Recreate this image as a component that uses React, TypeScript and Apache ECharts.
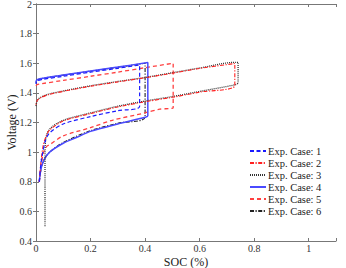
import React, { useEffect, useRef } from "react";
import * as echarts from "echarts";

const caseNames = ["Exp. Case: 1", "Exp. Case: 2", "Exp. Case: 3", "Exp. Case: 4", "Exp. Case: 5", "Exp. Case: 6"];

const case1Soc = [0.012, 0.018, 0.025, 0.035, 0.05, 0.1, 0.2, 0.3, 0.38, 0.38, 0.3, 0.2, 0.1, 0.02, 0.003, 0];
const case1Volt = [0.8, 0.92, 1.0, 1.08, 1.13, 1.19, 1.24, 1.28, 1.31, 1.588, 1.566, 1.54, 1.512, 1.49, 1.48, 1.46];

const case2Soc = [0.012, 0.018, 0.027, 0.04, 0.05, 0.1, 0.2, 0.3, 0.4, 0.5, 0.6, 0.729, 0.729, 0.6, 0.5, 0.4, 0.3, 0.2, 0.1, 0.05, 0.02, 0.005, 0];
const case2Volt = [0.8, 0.93, 1.05, 1.12, 1.15, 1.21, 1.26, 1.305, 1.34, 1.37, 1.405, 1.45, 1.598, 1.565, 1.533, 1.502, 1.474, 1.445, 1.41, 1.39, 1.37, 1.35, 1.32];

const case3Soc = [0.033, 0.033, 0.033, 0.035, 0.05, 0.1, 0.2, 0.3, 0.4, 0.5, 0.6, 0.73, 0.741, 0.741, 0.73, 0.6, 0.5, 0.4, 0.3, 0.2, 0.1, 0.05, 0.02, 0.005, 0];
const case3Volt = [0.5, 0.75, 0.95, 1.08, 1.155, 1.215, 1.265, 1.31, 1.345, 1.375, 1.41, 1.455, 1.47, 1.606, 1.606, 1.568, 1.536, 1.504, 1.477, 1.448, 1.413, 1.393, 1.373, 1.35, 1.31];

const case4Soc = [0.012, 0.015, 0.02, 0.03, 0.05, 0.1, 0.15, 0.2, 0.3, 0.4, 0.41, 0.41, 0.3, 0.2, 0.1, 0.02, 0.003, 0];
const case4Volt = [0.8, 0.85, 0.9, 0.95, 1.0, 1.06, 1.1, 1.14, 1.19, 1.235, 1.245, 1.605, 1.574, 1.547, 1.52, 1.497, 1.488, 1.47];

const case5Soc = [0.012, 0.02, 0.028, 0.04, 0.05, 0.1, 0.2, 0.28, 0.4, 0.454, 0.503, 0.503, 0.4, 0.3, 0.2, 0.1, 0.02, 0.003, 0];
const case5Volt = [0.8, 0.92, 1.0, 1.04, 1.05, 1.11, 1.165, 1.215, 1.265, 1.29, 1.3, 1.6, 1.57, 1.54, 1.512, 1.484, 1.462, 1.455, 1.44];

const case6Soc = [0.012, 0.02, 0.03, 0.05, 0.1, 0.2, 0.3, 0.4, 0.4, 0.3, 0.2, 0.1, 0.02, 0.003, 0];
const case6Volt = [0.8, 0.9, 0.95, 1.0, 1.065, 1.145, 1.195, 1.24, 1.6, 1.573, 1.547, 1.52, 1.497, 1.487, 1.47];

const xTicks = [0, 0.2, 0.4, 0.6, 0.8, 1];
const yTicks = [0.4, 0.6, 0.8, 1, 1.2, 1.4, 1.6, 1.8, 2];

const zip = (a: number[], b: number[]) => a.map((v, i) => [v, b[i]]);

const FONT = "Liberation Serif";

export default function App() {
  const ref = useRef<HTMLDivElement>(null);
  useEffect(() => {
    if (!ref.current) return;
    const chart = echarts.init(ref.current, null, { renderer: "svg" });
    const styles = [
      { color: "#1a1aff", type: [4, 2.5], width: 1.2 },
      { color: "#ff2020", type: [4, 1.5, 1.2, 1.5], width: 1.1 },
      { color: "#333333", type: [1, 1], width: 1.3 },
      { color: "#4a4aff", type: "solid", width: 1.5 },
      { color: "#ff4040", type: [4, 3], width: 1.3 },
      { color: "#222222", type: [4, 1.5, 1.2, 1.5], width: 1.1 },
    ];
    const datas = [
      zip(case1Soc, case1Volt),
      zip(case2Soc, case2Volt),
      zip(case3Soc, case3Volt),
      zip(case4Soc, case4Volt),
      zip(case5Soc, case5Volt),
      zip(case6Soc, case6Volt),
    ];
    const axisCommon = {
      axisLine: { show: true, lineStyle: { color: "#777", width: 1 } },
      axisTick: { show: true, inside: true, length: 3, lineStyle: { color: "#777" } },
      splitLine: { show: false },
    };
    const labelStyle = { fontFamily: FONT, fontSize: 10, color: "#333" };
    chart.setOption({
      animation: false,
      textStyle: { fontFamily: FONT },
      grid: { left: 36, right: 10, top: 4, bottom: 27, containLabel: false, outerBoundsMode: "none" },
      legend: {
        orient: "vertical",
        left: 244,
        top: 140,
        itemWidth: 16,
        itemHeight: 12,
        itemGap: 0,
        itemStyle: { opacity: 0 },
        data: caseNames,
        textStyle: { fontFamily: FONT, fontSize: 10.5, lineHeight: 12, color: "#222", padding: [0, 0, 0, -3] },
      },
      xAxis: [
        {
          type: "value",
          min: 0,
          max: 1.1,
          interval: 0.2,
          name: "SOC (%)",
          nameLocation: "middle",
          nameGap: 14,
          nameMoveOverlap: false,
          nameTextStyle: { fontFamily: FONT, fontSize: 12, lineHeight: 13, color: "#222", verticalAlign: "top" },
          axisLabel: {
            ...labelStyle,
            margin: 2,
            formatter: (v: number) => (xTicks.some((t) => Math.abs(t - v) < 1e-6) ? String(+v.toFixed(1)) : ""),
          },
          ...axisCommon,
        },
        {
          type: "value",
          position: "top",
          min: 0,
          max: 1.1,
          interval: 0.2,
          axisLabel: { show: false },
          ...axisCommon,
        },
      ],
      yAxis: [
        {
          type: "value",
          min: 0.4,
          max: 2,
          interval: 0.2,
          name: "Voltage (V)",
          nameLocation: "middle",
          nameGap: 18,
          nameMoveOverlap: false,
          nameTextStyle: { fontFamily: FONT, fontSize: 12, color: "#222" },
          axisLabel: {
            ...labelStyle,
            margin: 4,
            formatter: (v: number) => (yTicks.some((t) => Math.abs(t - v) < 1e-6) ? String(+v.toFixed(1)) : ""),
          },
          ...axisCommon,
        },
        {
          type: "value",
          position: "right",
          min: 0.4,
          max: 2,
          interval: 0.2,
          axisLabel: { show: false },
          ...axisCommon,
        },
      ],
      series: caseNames.map((name, i) => ({
        name,
        type: "line",
        data: datas[i],
        showSymbol: false,
        symbol: "none",
        smooth: 0.3,
        lineStyle: styles[i],
        itemStyle: { color: styles[i].color },
        z: 10 - i,
      })),
    });
    return () => chart.dispose();
  }, []);
  return <div ref={ref} style={{ width: 346, height: 268, position: "absolute", left: 0, top: 0 }} />;
}
